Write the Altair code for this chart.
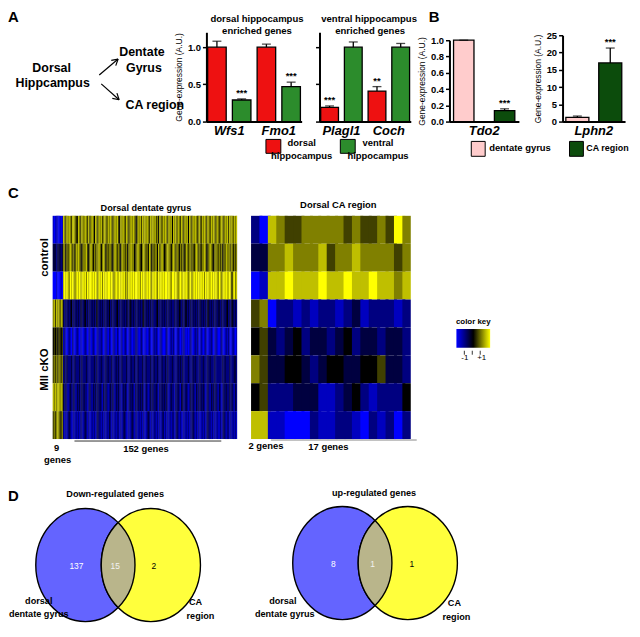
import math
import altair as alt
import pandas as pd

FONT = "Liberation Sans"
ONE = pd.DataFrame({"k": [0]})

# ---------------- data: panel A ----------------
a1_genes = ["Wfs1", "Fmo1"]
a2_genes = ["Plagl1", "Coch"]
a_groups = ["dorsal hippocampus", "ventral hippocampus"]
a1_dorsal = [1.00, 1.00]
a1_dorsal_err = [0.08, 0.04]
a1_dorsal_sig = ["", ""]
a1_ventral = [0.29, 0.47]
a1_ventral_err = [0.015, 0.06]
a1_ventral_sig = ["***", "***"]
a2_dorsal = [0.19, 0.41]
a2_dorsal_err = [0.02, 0.06]
a2_dorsal_sig = ["***", "**"]
a2_ventral = [1.00, 1.00]
a2_ventral_err = [0.07, 0.05]
a2_ventral_sig = ["", ""]

# ---------------- data: panel B ----------------
b_groups = ["dentate gyrus", "CA region"]
b1_gene = ["Tdo2"]
b1_dg = [1.00]
b1_dg_err = [0.0]
b1_ca = [0.135]
b1_ca_err = [0.022]
b2_gene = ["Lphn2"]
b2_dg = [1.2]
b2_dg_err = [0.4]
b2_ca = [17.0]
b2_ca_err = [4.3]
b_dg_sig = [""]
b_ca_sig = ["***"]

# ---------------- data: panel C (levels 0..8, 4 = 0 z-score) ----------------
left9 = ["101110101", "333233323", "000100010", "675767576",
         "454545545", "565656656", "767677676", "565676556"]
left152 = [
    "76576765 77654765 76676575 67647657 67567657 67656767 54767657 65676765 47675767 67657676 75647657 67657674 76757657 65767476 57676567 47676576 57676576 56765767 57675767",
    "66465676 56476765 46667546 76465667 64676465 66546765 65476656 46676645 67654676 56476465 66475676 45676646 76566465 65476566 56467656 46676456 76546665 65646576 66574656",
    "78787687 87678787 78786878 87878768 78687878 87876787 78787867 68787878 87868787 78787687 87687878 78878768 87876787 78787678 67878787 87868787 78787876 87678787 78747867",
    "32323234 23232323 32342323 23232432 32323232 42323234 23232323 32432323 23232342 32323232 23423232 32323232 23232432 32342323 23232323 32323243 23232323 32323234 23243232",
    "12101210 21012101 10121012 01210121 12101210 21012102 10120121 01210112 21012101 10121012 12101210 01210121 21012101 12101012 10121210 21012101 12101210 01210121 21012101",
    "23232223 22322232 32223222 22232322 23222323 22322232 32232223 22232232 23222322 32223223 22322232 23232223 22223232 32222322 23232223 22322232 32223222 22232322 23222332",
    "32321232 23213232 32322123 21323232 32132321 23232132 32213232 12323213 23232321 32123232 23213232 32321232 21323213 32232123 23213232 32321232 13232321 32123232 23232132",
    "21212321 12121212 21232121 12121232 21212121 32121212 21212321 12123212 21212121 12321212 21212123 12121212 21232121 12121212 23212121 12121232 21212121 12123212 21212121",
]
right_rows = [
    [2, 0, 7, 6, 5, 5, 6, 6, 6, 6, 6, 5, 6, 5, 5, 6, 5, 8, 6],
    [3, 3, 6, 6, 7, 6, 6, 6, 7, 5, 6, 6, 7, 6, 6, 6, 6, 5, 6],
    [0, 1, 7, 7, 8, 7, 7, 7, 8, 7, 7, 8, 7, 7, 8, 7, 7, 6, 7],
    [5, 6, 0, 2, 2, 1, 2, 1, 2, 2, 1, 2, 3, 1, 2, 2, 2, 1, 2],
    [4, 5, 3, 2, 3, 4, 2, 3, 3, 2, 3, 4, 2, 3, 3, 2, 3, 3, 2],
    [6, 5, 3, 3, 4, 4, 3, 2, 3, 4, 4, 3, 3, 4, 4, 5, 3, 3, 2],
    [4, 5, 2, 2, 2, 3, 3, 3, 1, 1, 2, 3, 4, 2, 1, 2, 2, 2, 4],
    [7, 7, 1, 1, 0, 0, 0, 2, 1, 1, 2, 2, 1, 0, 2, 1, 2, 0, 2],
]

# ---------------- data: panel D ----------------
venn_regions = ["dorsal dentate gyrus only", "both", "CA region only"]
down_counts = [137, 15, 2]
up_counts = [8, 1, 1]

# grid: column widths and row heights (plot areas, flush bounds)
COLW = [200, 114, 131, 114, 70]
ROWH = [90, 382, 127]


# ---------------- helpers ----------------
def txt(s, x, y, size=10, weight="bold", align="center", baseline="middle",
        angle=None, color="black", style=None):
    kw = dict(text=s, font=FONT, fontSize=size, fontWeight=weight,
              align=align, baseline=baseline, color=color)
    if angle is not None:
        kw["angle"] = angle
    if style is not None:
        kw["fontStyle"] = style
    return alt.Chart(ONE).mark_text(**kw).encode(x=alt.value(x), y=alt.value(y))


def seg(x1, y1, x2, y2, color="black", w=1.0):
    return alt.Chart(ONE).mark_rule(color=color, strokeWidth=w).encode(
        x=alt.value(x1), y=alt.value(y1), x2=alt.value(x2), y2=alt.value(y2))


def box(x1, y1, x2, y2, fill):
    return alt.Chart(ONE).mark_rect(fill=fill, stroke="black", strokeWidth=1).encode(
        x=alt.value(x1), y=alt.value(y1), x2=alt.value(x2), y2=alt.value(y2))


def arrow(x1, y1, x2, y2, head=7):
    ang = math.atan2(y2 - y1, x2 - x1)
    out = [seg(x1, y1, x2, y2, w=1.2)]
    for d in (math.radians(150), math.radians(-150)):
        out.append(seg(x2, y2, x2 + head * math.cos(ang + d),
                       y2 + head * math.sin(ang + d), w=1.2))
    return out


def bar_df(genes, groups, v1, e1, s1, v2, e2, s2):
    rows = []
    for i, g in enumerate(genes):
        rows.append(dict(slot=g + "|" + groups[0], group=groups[0], value=v1[i],
                         upper=v1[i] + e1[i], sig=s1[i]))
        rows.append(dict(slot=g + "|" + groups[1], group=groups[1], value=v2[i],
                         upper=v2[i] + e2[i], sig=s2[i]))
    return pd.DataFrame(rows)


def bar_chart(df, genes, groups, colors, width, ydomain, yrange, yvalues, yfmt,
              xrange, pi, po, ytitle, labels):
    slots = [g + "|" + grp for g in genes for grp in groups]
    step = (xrange[1] - xrange[0]) / (len(slots) - pi + 2 * po)
    xenc = alt.X("slot:N", sort=slots,
                 scale=alt.Scale(domain=slots, range=xrange, paddingInner=pi, paddingOuter=po),
                 axis=alt.Axis(title=None, labelAngle=0, labelFont=FONT, labelFontSize=13,
                               labelFontWeight="bold", labelFontStyle="italic",
                               labelColor="black", ticks=False, domainColor="black",
                               domainWidth=2, labelPadding=3, labelOffset=step / 2,
                               labelExpr=f"split(datum.label, '|')[1] == '{groups[0]}' ? split(datum.label, '|')[0] : ''"))
    yaxis = alt.Axis(values=yvalues, format=yfmt, labels=labels, grid=False,
                     labelFont=FONT, labelFontSize=9.5, labelFontWeight="bold",
                     labelColor="black", labelPadding=2, domainColor="black",
                     domainWidth=2, tickColor="black", tickWidth=1.5, tickSize=4,
                     titleFont=FONT, titleFontSize=8.5, titleFontWeight="normal",
                     titleColor="black", titlePadding=4)
    yscale = alt.Scale(domain=ydomain, range=yrange, nice=False, zero=True)

    def Y(field):
        return alt.Y(field + ":Q", scale=yscale, axis=yaxis, title=ytitle)

    base = alt.Chart(df).encode(x=xenc)
    bars = base.mark_bar(stroke="black", strokeWidth=1.3).encode(
        y=Y("value"),
        color=alt.Color("group:N", scale=alt.Scale(domain=groups, range=colors), legend=None))
    err = base.mark_rule(color="black", strokeWidth=1.3).encode(y=Y("value"), y2="upper:Q")
    cap = base.mark_tick(color="black", thickness=1.3, size=9).encode(y=Y("upper"))
    sig = base.mark_text(font=FONT, fontSize=9.5, fontWeight="bold", baseline="bottom",
                         dy=-1, color="black").encode(y=Y("upper"), text="sig:N")
    return alt.layer(bars, err, cap, sig).properties(width=width, height=ROWH[0])


CSCALE = alt.Scale(domain=[-2, 0, 2], range=["#0000ff", "#000000", "#ffff00"],
                   interpolate="rgb", clamp=True)


def heat_chart(rows, width, height, xrange, yrange, legend):
    n = max(len(r) for r in rows)
    recs = []
    for r, row in enumerate(rows):
        for c, v in enumerate(row):
            # each cell slightly overlaps its right neighbour so no seams show
            recs.append(dict(s=r, g=c, g2=min(c + 1.35, n), z=(v - 4) / 2))
    df = pd.DataFrame(recs)
    return alt.Chart(df).mark_rect(strokeWidth=0).encode(
        x=alt.X("g:Q", scale=alt.Scale(domain=[0, n], range=xrange, nice=False, zero=False), axis=None),
        x2="g2:Q",
        y=alt.Y("s:O", scale=alt.Scale(domain=list(range(len(rows))), range=yrange,
                                        paddingInner=0, paddingOuter=0), axis=None),
        color=alt.Color("z:Q", scale=CSCALE, legend=legend),
    ).properties(width=width, height=height)


U = 57.0
VENN_SIZE = (2 * U) ** 2
RX = 50 / U
HALF = 33 / U
DY = math.sqrt(1 - (HALF / RX) ** 2)
ELLIPSE = f"M {-RX:.4f} 0 A {RX:.4f} 1 0 1 0 {RX:.4f} 0 A {RX:.4f} 1 0 1 0 {-RX:.4f} 0 Z"
LENS = f"M 0 {-DY:.4f} A {RX:.4f} 1 0 0 1 0 {DY:.4f} A {RX:.4f} 1 0 0 1 0 {-DY:.4f} Z"


def blob(path, x, y, fill):
    return alt.Chart(ONE).mark_point(shape=path, size=VENN_SIZE, filled=True, fill=fill,
                                     stroke="black", strokeWidth=1.4, opacity=1,
                                     fillOpacity=1, strokeOpacity=1).encode(
        x=alt.value(x), y=alt.value(y))


def venn(counts, cx, cy, num_range, width, extra):
    df = pd.DataFrame({"region": venn_regions, "count": counts})
    nums = alt.Chart(df).mark_text(font=FONT, fontSize=8.5).encode(
        x=alt.X("region:N", sort=venn_regions,
                scale=alt.Scale(type="point", domain=venn_regions, range=num_range, padding=0),
                axis=None),
        y=alt.value(cy + 1),
        text="count:Q",
        color=alt.Color("region:N", scale=alt.Scale(domain=venn_regions,
                                                    range=["#ffffff", "#f2f2f2", "#000000"]),
                        legend=None))
    layers = [blob(ELLIPSE, cx - 33, cy, "#6464ff"),
              blob(ELLIPSE, cx + 33, cy, "#ffff3c"),
              blob(LENS, cx, cy, "#b9b58b"),
              nums] + extra
    return alt.layer(*layers).properties(width=width, height=ROWH[2])


# ---------------- row 1 (cell origin: page x 8, y 30) ----------------
diagram = alt.layer(
    txt("A", 0, -22, size=15, align="left", baseline="top"),
    txt("Dorsal", 44, 36, size=12.5),
    txt("Hippcampus", 45, 51, size=12.5),
    txt("Dentate", 135, 20, size=12.5),
    txt("Gyrus", 137, 36, size=12.5),
    txt("CA region", 148, 73, size=12.5),
    *arrow(92, 43, 111, 27),
    *arrow(94, 52, 112, 68),
    txt("dorsal hippocampus", 251, -13, size=9.6),
    txt("enriched genes", 251, -1, size=9.6),
    txt("ventral hippocampus", 364, -13, size=9.6),
    txt("enriched genes", 365, -1, size=9.6),
    txt("B", 424, -22, size=15, align="left", baseline="top"),
    box(260, 108, 275, 122, "#ee1111"),
    txt("dorsal", 296, 112, size=9.5),
    txt("hippocampus", 296, 125, size=9.5),
    box(335, 108, 350, 122, "#2c8c2c"),
    txt("ventral", 373, 112, size=9.5),
    txt("hippocampus", 373, 125, size=9.5),
    box(467, 110, 481, 125, "#ffcccc"),
    txt("dentate gyrus", 485, 117, size=9.5, align="left"),
    box(566, 110, 580, 125, "#0c4c0c"),
    txt("CA region", 583, 117, size=9, align="left"),
).properties(width=COLW[0], height=ROWH[0])

a1 = bar_chart(bar_df(a1_genes, a_groups, a1_dorsal, a1_dorsal_err, a1_dorsal_sig,
                      a1_ventral, a1_ventral_err, a1_ventral_sig),
               a1_genes, a_groups, ["#ee1111", "#2c8c2c"], COLW[1], [0, 1.2], [90, 0],
               [0, 0.5, 1.0], ".1f", [0, 96], 0.25, 0.05,
               "Gene-expression (A.U.)", True)
a2 = bar_chart(bar_df(a2_genes, a_groups, a2_dorsal, a2_dorsal_err, a2_dorsal_sig,
                      a2_ventral, a2_ventral_err, a2_ventral_sig),
               a2_genes, a_groups, ["#ee1111", "#2c8c2c"], COLW[2], [0, 1.2], [90, 0],
               [0, 0.5, 1.0], ".1f", [0, 92], 0.25, 0.05, None, False)
b1 = bar_chart(bar_df(b1_gene, b_groups, b1_dg, b1_dg_err, b_dg_sig,
                      b1_ca, b1_ca_err, b_ca_sig),
               b1_gene, b_groups, ["#ffcccc", "#0c4c0c"], COLW[3], [0, 1.0], [90, 8],
               [0, 0.2, 0.4, 0.6, 0.8, 1.0], ".1f", [0, 70], 0.5, 0.1,
               "Gene-expression (A.U.)", True)
b2 = bar_chart(bar_df(b2_gene, b_groups, b2_dg, b2_dg_err, b_dg_sig,
                      b2_ca, b2_ca_err, b_ca_sig),
               b2_gene, b_groups, ["#ffcccc", "#0c4c0c"], COLW[4], [0, 25], [90, 3],
               [0, 5, 10, 15, 20, 25], "d", [0, 63], 0.3, 0.1,
               "Gene-expression (A.U.)", True)

# ---------------- row 2 (heat1 origin page 8,120; heat2 origin page 208,120) ----------------
left_rows = [[int(ch) for ch in (a + b.replace(" ", ""))] for a, b in zip(left9, left152)]

heat1 = alt.layer(
    heat_chart(left_rows, COLW[0], ROWH[1], [45, 231], [95, 320], None),
    txt("C", 0, 65, size=15, align="left", baseline="top"),
    txt("Dorsal dentate gyrus", 139, 87, size=9.2),
    txt("control", 37, 137, size=11.5, angle=270),
    txt("Mll cKO", 37, 250, size=11.5, angle=270),
    txt("9", 49, 329, size=9.5),
    txt("genes", 50, 341, size=9.5),
    seg(67, 322, 215, 322, color="#333333", w=1),
    txt("152 genes", 139, 330, size=9.5),
).properties(width=COLW[0], height=ROWH[1])

key_legend = alt.Legend(type="gradient", orient="none", legendX=251, legendY=198,
                        direction="horizontal",
                        title="color key", titleFont=FONT, titleFontSize=8, titleFontWeight="bold",
                        titleColor="black", titlePadding=3, titleAnchor="middle",
                        gradientLength=34, gradientThickness=19, gradientStrokeWidth=0,
                        values=[-1, 1], labelExpr="datum.value > 0 ? '+1' : '-1'",
                        labelFont=FONT, labelFontSize=8, labelColor="black", labelOffset=6)

heat2 = alt.layer(
    heat_chart(right_rows, COLW[1], ROWH[1], [45, 206], [95, 320], key_legend),
    txt("Dorsal CA region", 133, 84, size=9.5),
    txt("2 genes", 60, 327, size=9.5),
    txt("17 genes", 123, 328, size=9.5),
    seg(65, 321, 212, 321, color="#888888", w=1),
    seg(260, 231, 260, 235, w=0.8),
    seg(268, 231, 268, 235, w=0.8),
    seg(276, 231, 276, 235, w=0.8),
).properties(width=COLW[1], height=ROWH[1])


def placeholder(w):
    return alt.Chart(ONE).mark_point(opacity=0).encode(
        x=alt.value(0), y=alt.value(0)).properties(width=w, height=ROWH[1])


# ---------------- row 3 (venn1 origin page 8,502; venn2 origin page 208,502) ----------------
venn1 = venn(down_counts, 111, 65, [69, 147], COLW[0], [
    txt("D", 0, -12, size=15, align="left", baseline="top"),
    txt("Down-regulated  genes", 108, -7, size=9.2),
    txt("dorsal", 31, 101, size=9.2),
    txt("dentate gyrus", 31, 114, size=9.2),
    txt("CA", 189, 102, size=9.2),
    txt("region", 194, 116, size=9.2),
])
venn2 = venn(up_counts, 170, 63, [128, 207], COLW[1], [
    txt("up-regulated genes", 169, -8, size=9.2),
    txt("dorsal", 77, 101, size=9.2),
    txt("dentate gyrus", 79, 114, size=9.2),
    txt("CA", 250, 103, size=9.2),
    txt("region", 252, 117, size=9.2),
])

cells = [diagram, a1, a2, b1, b2,
         heat1, heat2, placeholder(COLW[2]), placeholder(COLW[3]), placeholder(COLW[4]),
         venn1, venn2]

chart = alt.concat(*cells, columns=5, spacing=0, bounds="flush", align="each").resolve_scale(
    color="independent"
).properties(
    padding={"left": 0, "top": 0, "right": 0, "bottom": 0}
).configure(font=FONT).configure_view(stroke=None)

chart.save("out.html", embed_options={"renderer": "svg", "actions": False})
